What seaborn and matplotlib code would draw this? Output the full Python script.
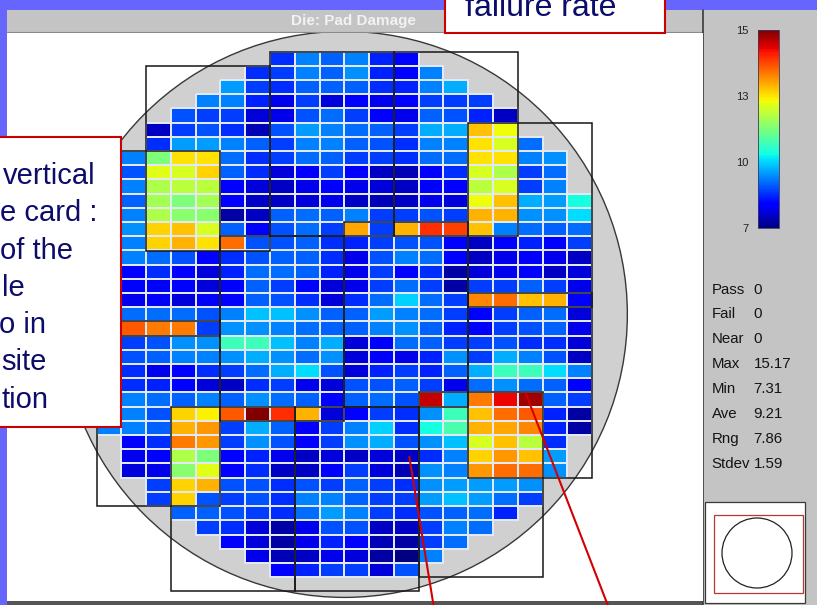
import numpy as np
import pandas as pd
import matplotlib
matplotlib.use("Agg")
import matplotlib.pyplot as plt
import seaborn as sns
from matplotlib.patches import Rectangle, Ellipse, Circle
from matplotlib.lines import Line2D
from matplotlib.colors import Normalize, to_rgba
from matplotlib.cm import ScalarMappable

# ---------------------------------------------------------------------------
# Pad-damage readings per die. Each wafer row is a string of 20 die codes,
# '.' marks a position with no die; DIE_CODES turns a code into its value.
# ---------------------------------------------------------------------------
DIE_CODES = {
    "0": 7.31, "1": 7.56, "G": 7.68, "2": 7.80, "H": 7.94, "3": 8.05, "I": 8.17,
    "4": 8.29, "J": 8.41, "5": 8.54, "A": 8.66, "6": 8.78, "B": 8.91, "7": 9.03,
    "C": 9.15, "8": 9.28, "D": 9.40, "9": 9.52, "E": 9.64, "a": 9.77, "F": 9.89,
    "b": 10.01, "c": 10.26, "d": 10.63, "e": 10.75, "f": 11.24, "g": 11.37,
    "h": 11.61, "i": 11.73, "j": 11.85, "k": 12.10, "l": 12.22, "m": 12.34,
    "n": 12.46, "o": 12.58, "p": 12.71, "q": 12.84, "r": 12.96, "s": 13.08,
    "t": 13.20, "u": 13.33, "v": 13.45, "w": 13.57, "x": 13.70, "y": 13.82,
    "z": 13.94, "K": 14.07, "L": 14.19, "M": 14.42, "N": 14.68, "O": 14.93,
    "P": 15.05, "Q": 15.17,
}

WAFER_ROWS = [
    ".......A8785I.......",
    "......A687D548......",
    ".....96A777A58E.....",
    "....88536H434666....",
    "...B66H3BC6I37B52...",
    "..26BAGB98C76EEqm...",
    "..A99876887BA88okC..",
    ".8fooCA6C766ACCoo8D.",
    ".Blkp7AH4642GIAki6C.",
    ".8ijj4H23I3H2IIjk68.",
    "87hfh422H32G23HmqE9c",
    "88igg127C7866B6rrDDb",
    "9Dpqk7IBC6s6rKzq8C7C",
    "88prowBB7A56BBI2I5I6",
    "78CB4AB77A3B8CI23I32",
    "44AIH5CC7536IA1H3I2H",
    "444IHI764H36C6166763",
    "334HII7BAHACFC6uwqrI",
    "8CCCB8aaD7798C6I67CH",
    "xxvv6DD8C778D75I6B73",
    "66BDDdda8EH4C766BAAH",
    "7B788DEDCDH435D6E8B2",
    "6A34A6CEbBH5657Eddb8",
    "6A5IH2A63HBB763CDC7I",
    "88C787DC7I7CBNEvMO76",
    "88BpnxQKrHI6ADdqwx51",
    "887rt6E7I68FAcersu51",
    ".IAvt6DBI6DEBDakqjA.",
    ".3IifI532H2H2A8ptq9.",
    ".H3glIA2246HGD8twwD.",
    "..6prBBAB676AD999D..",
    "..6pB6BA887669a9C6..",
    "...77B6AC986AB7C5...",
    "....6AH13BB2268C....",
    ".....IH135IG16C.....",
    "......3G23H108......",
    ".......I566HB.......",
]

# Probe-card touchdowns (top-left die column / row), each 5 dies x 13 dies
TOUCHDOWN_COLS = [2, 7, 12, 0, 0, 5, 10, 15, 15, 3, 8, 13]
TOUCHDOWN_ROWS = [1, 0, 0, 7, 19, 13, 12, 5, 17, 25, 25, 24]
TOUCHDOWN_W, TOUCHDOWN_H = 5, 13

# Summary panel
STAT_LABELS = ["Pass", "Fail", "Near", "Max", "Min", "Ave", "Rng", "Stdev"]
STAT_VALUES = ["0", "0", "0", "15.17", "7.31", "9.21", "7.86", "1.59"]
CBAR_LABELS = ["7", "10", "13", "15"]

TITLE = "Die: Pad Damage"
NOTE_TOP = "failure rate"
NOTE_LEFT_LINES = ["vertical", "e card :", "of the", "le", "o in", "site", "tion"]
NOTE_LEFT_X = [3, 0, 0, 2, -1, 1, 1]

# ---------------------------------------------------------------------------
for row in WAFER_ROWS:
    assert len(row) == 20, row
grid = np.array([[DIE_CODES.get(ch, np.nan) for ch in row] for row in WAFER_ROWS])
die_map = pd.DataFrame(grid)
VMIN, VMAX = np.nanmin(grid), np.nanmax(grid)

sns.set_style("white")
plt.rcParams["font.family"] = ["Liberation Sans", "DejaVu Sans"]

W_PX, H_PX = 817, 605
fig = plt.figure(figsize=(W_PX / 100, H_PX / 100), dpi=100)
fig.patch.set_facecolor("white")


def frac(x0, y0, x1, y1):
    """Pixel box (top-left origin) -> figure fraction rect."""
    return [x0 / W_PX, 1 - y1 / H_PX, (x1 - x0) / W_PX, (y1 - y0) / H_PX]


def pixel_axes(zorder):
    a = fig.add_axes([0, 0, 1, 1], zorder=zorder)
    a.set_xlim(0, W_PX)
    a.set_ylim(H_PX, 0)
    a.axis("off")
    a.patch.set_alpha(0)
    return a


# ---- window chrome -------------------------------------------------------
bg = pixel_axes(0)
SLIDE = "#6666ff"
PANEL = "#c4c4c4"
bg.add_patch(Rectangle((0, 0), W_PX, 10, color=SLIDE, lw=0))
bg.add_patch(Rectangle((0, 0), 7.5, H_PX, color=SLIDE, lw=0))
bg.add_patch(Rectangle((7.5, 10), 696, 21.5, color=PANEL, lw=0))
bg.add_patch(Rectangle((703, 10), W_PX - 703, H_PX - 10, color=PANEL, lw=0))
bg.add_line(Line2D([7.5, 703], [31.5, 31.5], color="#8a8a8a", lw=0.8))
bg.add_line(Line2D([703.5, 703.5], [10, H_PX], color="#3a3a3a", lw=1.2))
bg.add_patch(Rectangle((7.5, 601), 696, 4, color="#555555", lw=0))
bg.text(353, 21, TITLE, ha="center", va="center", fontsize=11,
        fontweight="bold", color="#f2f2f2")

# ---- wafer map -----------------------------------------------------------
GRID_X0, CELL_W = 96.5, 24.785
GRID_Y0, CELL_H = 51.7, 14.2
PLOT_BOX = (7.5, 32.5, 703, 600.5)
GAP_COLOR = "#e2e8f5"

ax = fig.add_axes(frac(*PLOT_BOX), zorder=1)
ax.set_facecolor("white")

n_rows, n_cols = grid.shape
wafer_r_px = 283
ax.add_patch(Ellipse((n_cols / 2, n_rows / 2), 2 * wafer_r_px / CELL_W,
                     2 * wafer_r_px / CELL_H, facecolor="#d0d0d0",
                     edgecolor="#383838", lw=1.0, zorder=0.5))

sns.heatmap(die_map, ax=ax, cmap="jet", vmin=VMIN, vmax=VMAX, cbar=False,
            linewidths=1.3, linecolor=GAP_COLOR,
            xticklabels=False, yticklabels=False)

# only dies get the light gap outline; empty positions stay bare
mesh = ax.collections[0]
edge_rgba = np.tile(to_rgba(GAP_COLOR), (grid.size, 1))
edge_rgba[np.isnan(grid).ravel(), 3] = 0.0
mesh.set_edgecolor(edge_rgba)

for c, r in zip(TOUCHDOWN_COLS, TOUCHDOWN_ROWS):
    ax.add_patch(Rectangle((c, r), TOUCHDOWN_W, TOUCHDOWN_H, fill=False,
                           edgecolor="#161616", lw=1.1, zorder=3,
                           clip_on=False))

ax.set_xlim((PLOT_BOX[0] - GRID_X0) / CELL_W, (PLOT_BOX[2] - GRID_X0) / CELL_W)
ax.set_ylim((PLOT_BOX[3] - GRID_Y0) / CELL_H, (PLOT_BOX[1] - GRID_Y0) / CELL_H)
ax.set_xlabel("")
ax.set_ylabel("")
for s in ax.spines.values():
    s.set_visible(False)

# ---- colour scale --------------------------------------------------------
cax = fig.add_axes(frac(758, 30, 779, 228), zorder=2)
cb = fig.colorbar(ScalarMappable(norm=Normalize(VMIN, VMAX), cmap="jet"),
                  cax=cax, ticks=np.linspace(VMIN, VMAX, len(CBAR_LABELS)))
cb.set_ticklabels(CBAR_LABELS)
cax.yaxis.set_ticks_position("left")
cax.tick_params(length=0, pad=7, labelsize=8, labelcolor="#202020")
cb.outline.set_edgecolor("#3a3a60")
cb.outline.set_linewidth(0.6)

# ---- overlay: stats, locator, call-outs ----------------------------------
top = pixel_axes(4)

for i, (lab, val) in enumerate(zip(STAT_LABELS, STAT_VALUES)):
    yb = 293.5 + 24.9 * i
    top.text(711.5, yb, lab, ha="left", va="baseline", fontsize=10.8,
             color="#141414")
    top.text(753.5, yb, val, ha="left", va="baseline", fontsize=10.8,
             color="#141414")

top.add_patch(Rectangle((705, 502), 100.5, 101, facecolor="white",
                        edgecolor="#3a3a3a", lw=0.9))
top.add_patch(Rectangle((714, 515), 89, 78, fill=False,
                        edgecolor="#b03a3a", lw=0.9))
top.add_patch(Circle((757, 553), 35, fill=False, edgecolor="#222222", lw=0.9))

NOTE_RED = "#cc0000"
NOTE_INK = "#0c0c6a"
top.add_patch(Rectangle((445, -6), 220.5, 38.7, facecolor="white",
                        edgecolor=NOTE_RED, lw=1.5))
top.text(465, 15.5, NOTE_TOP, ha="left", va="baseline", fontsize=23,
         color=NOTE_INK)

top.add_patch(Rectangle((-6, 137.3), 126.7, 289.7, facecolor="white",
                        edgecolor=NOTE_RED, lw=1.5))
for i, (line, x) in enumerate(zip(NOTE_LEFT_LINES, NOTE_LEFT_X)):
    top.text(x, 184 + 37.3 * i, line, ha="left", va="baseline", fontsize=21,
             color=NOTE_INK)

top.add_line(Line2D([409.3, 433.8], [456.7, 607], color="#d40000", lw=1.5))
top.add_line(Line2D([525.7, 608.5], [393.3, 607], color="#d40000", lw=1.5))

fig.savefig("out.png", dpi=100, facecolor=fig.get_facecolor())
